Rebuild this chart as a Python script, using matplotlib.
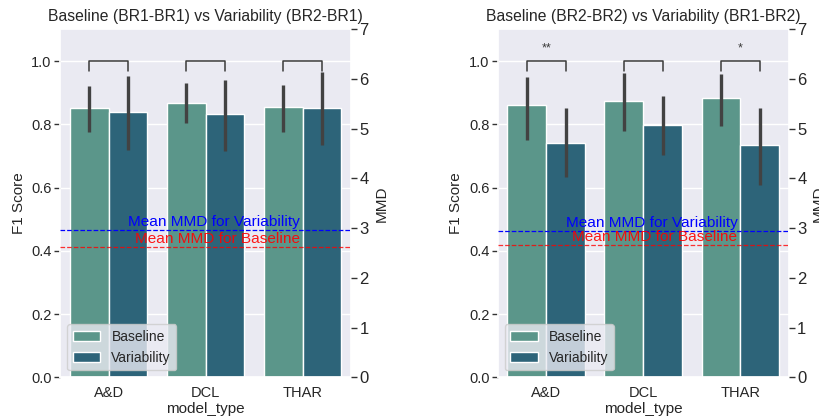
import matplotlib
matplotlib.use("Agg")
import matplotlib.pyplot as plt
import numpy as np
import seaborn as sns

sns.set_theme(style="darkgrid")
plt.rcParams['font.family'] = ['Liberation Sans', 'DejaVu Sans']

categories = ["A&D", "DCL", "THAR"]
hue_names = ["Baseline", "Variability"]
titles = ["Baseline (BR1-BR1) vs Variability (BR2-BR1)",
          "Baseline (BR2-BR2) vs Variability (BR1-BR2)"]

# panel 1
p1_base = [0.853, 0.866, 0.855]
p1_base_lo = [0.777, 0.804, 0.776]
p1_base_hi = [0.921, 0.932, 0.925]
p1_var = [0.839, 0.833, 0.852]
p1_var_lo = [0.719, 0.714, 0.734]
p1_var_hi = [0.953, 0.939, 0.965]
p1_mmd_base = 2.62
p1_mmd_var = 2.97
p1_stars = ["", "", ""]

# panel 2
p2_base = [0.862, 0.875, 0.884]
p2_base_lo = [0.751, 0.780, 0.793]
p2_base_hi = [0.949, 0.962, 0.960]
p2_var = [0.742, 0.797, 0.735]
p2_var_lo = [0.632, 0.702, 0.608]
p2_var_hi = [0.853, 0.889, 0.853]
p2_mmd_base = 2.67
p2_mmd_var = 2.95
p2_stars = ["**", "", "*"]

colors = ["#5b968a", "#2d6479"]

panels = [
    (p1_base, p1_base_lo, p1_base_hi, p1_var, p1_var_lo, p1_var_hi, p1_mmd_base, p1_mmd_var, p1_stars),
    (p2_base, p2_base_lo, p2_base_hi, p2_var, p2_var_lo, p2_var_hi, p2_mmd_base, p2_mmd_var, p2_stars),
]

fig = plt.figure(figsize=(8.2, 4.2), dpi=100)
axes_pos = [[0.0732, 0.1017, 0.355, 0.8283], [0.607, 0.1017, 0.355, 0.8283]]

x = np.arange(len(categories))
w = 0.4
for i, (pos, pdata, title) in enumerate(zip(axes_pos, panels, titles)):
    base, blo, bhi, var, vlo, vhi, mb, mv, stars = pdata
    ax = fig.add_axes(pos)
    series = [(base, blo, bhi), (var, vlo, vhi)]
    for j, (vals, lo, hi) in enumerate(series):
        vals = np.array(vals); lo = np.array(lo); hi = np.array(hi)
        xs = x + (j - 0.5) * w
        ax.bar(xs, vals, width=w, color=colors[j], edgecolor="white",
               linewidth=1, label=hue_names[j], zorder=2)
        ax.vlines(xs, lo, hi, color="#424242", linewidth=2.4, zorder=3)
    # brackets
    for k in range(len(categories)):
        x1 = x[k] - w / 2
        x2 = x[k] + w / 2
        ax.plot([x1, x1, x2, x2], [0.97, 1.0, 1.0, 0.97], color="#3a3a3a",
                linewidth=1.1, zorder=4)
        if stars[k]:
            ax.text(x[k], 1.02, stars[k], ha="center", va="bottom",
                    fontsize=9, color="#3a3a3a")
    ax.set_xlim(-0.5, 2.5)
    ax.set_ylim(0, 1.1)
    ax.set_xticks(x)
    ax.set_xticklabels(categories)
    ax.set_yticks([0.0, 0.2, 0.4, 0.6, 0.8, 1.0])
    ax.set_yticklabels(["0.0", "0.2", "0.4", "0.6", "0.8", "1.0"])
    ax.tick_params(axis="both", labelsize=10.5, length=4, width=1,
                   color="#333333", left=True, bottom=False, pad=2,
                   labelcolor="#262626")
    ax.grid(axis="x", visible=False)
    ax.set_xlabel("model_type", fontsize=11, labelpad=2, color="#262626")
    ax.set_ylabel("F1 Score", fontsize=11, color="#262626")
    ax.set_title(title, fontsize=11.3, pad=6, color="#262626")
    leg = ax.legend(loc="lower left", fontsize=10, framealpha=0.8)

    ax2 = ax.twinx()
    ax2.set_ylim(0, 7)
    ax2.set_yticks(range(0, 8))
    ax2.grid(False)
    ax2.tick_params(axis="y", labelsize=12, length=4, width=1,
                    color="#333333", right=True, pad=2, labelcolor="#262626")
    ax2.set_ylabel("MMD", fontsize=11, color="#262626")
    ax2.axhline(mv, color="blue", linestyle="--", linewidth=0.9)
    ax2.axhline(mb, color="red", linestyle="--", linewidth=0.9, alpha=0.8)
    ax2.text(1.97, mv + 0.02, "Mean MMD for Variability", color="blue",
             ha="right", va="bottom", fontsize=11.1)
    ax2.text(1.97, mb + 0.02, "Mean MMD for Baseline", color="red",
             ha="right", va="bottom", fontsize=11.1, alpha=0.9)
    for sp in ax2.spines.values():
        sp.set_visible(False)

fig.savefig("out.png", dpi=100)
